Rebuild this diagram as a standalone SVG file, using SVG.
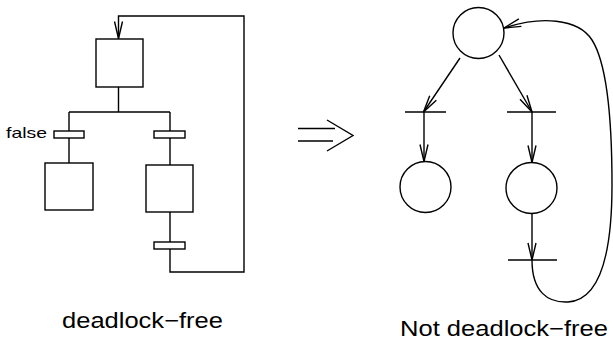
<svg xmlns="http://www.w3.org/2000/svg" width="613" height="343" viewBox="0 0 613 343">
<style>
.s{fill:none;stroke:#000;stroke-width:1.4}
.b{fill:#fff;stroke:#000;stroke-width:1.4}
.t{font-family:"Liberation Sans",Arial,sans-serif;fill:#000}
</style>
<defs>
<marker id="ah" markerUnits="userSpaceOnUse" markerWidth="20" markerHeight="12" refX="17" refY="4" orient="auto" overflow="visible">
<path d="M0,0 L17,4 L0,8" fill="none" stroke="#000" stroke-width="1.4"/>
</marker>
</defs>
<rect width="613" height="343" fill="#fff"/>
<g id="connectors">
<path class="s" d="M118.5,87 V112 M69,112 H170 M69,112 V131 M69,138 V163 M170,112 V131 M170,138 V165 M170,212 V242"/>
<path class="s" d="M170,249 V272 H244 V16 H118.5 V38.5" marker-end="url(#ah)"/>
<path class="s" d="M298,128.5 H335 M298,141 H333 M327,120 L353,135.5 L327,151"/>
<path class="s" d="M460,58 L423.5,112" marker-end="url(#ah)"/>
<path class="s" d="M499,55 L532,112" marker-end="url(#ah)"/>
<path class="s" d="M424,112 V161.5" marker-end="url(#ah)"/>
<path class="s" d="M532,112 V162.5" marker-end="url(#ah)"/>
<path class="s" d="M532,213.5 V260" marker-end="url(#ah)"/>
<path class="s" d="M532,260 C532,292 548,303 568,302 C600,300 612,255 612,185 C612,110 606,62 592,40 C578,18 540,16 504,28" marker-end="url(#ah)"/>
</g>
<g id="step-top"><rect class="b" x="96" y="39" width="47" height="48"/></g>
<g id="trans-left"><rect class="b" x="54" y="131" width="30" height="7"/></g>
<g id="trans-right"><rect class="b" x="154" y="131" width="31" height="7"/></g>
<g id="step-left"><rect class="b" x="45" y="163" width="48" height="47"/></g>
<g id="step-right"><rect class="b" x="146" y="165" width="47" height="47"/></g>
<g id="trans-bottom"><rect class="b" x="154" y="242" width="31" height="7"/></g>
<g id="label-false"><text class="t" x="6" y="138" font-size="15" textLength="41" lengthAdjust="spacingAndGlyphs">false</text></g>
<g id="place-top"><circle class="s" cx="478.5" cy="33" r="25.5"/></g>
<g id="place-left"><circle class="s" cx="425.5" cy="187" r="25.5"/></g>
<g id="place-right"><circle class="s" cx="531.5" cy="188" r="25.5"/></g>
<g id="pt-left"><path class="s" d="M405,112 H446"/></g>
<g id="pt-right"><path class="s" d="M507,112 H556"/></g>
<g id="pt-bottom"><path class="s" d="M508,260 H557"/></g>
<g id="caption-left"><text class="t" x="62" y="328" font-size="22.5" textLength="161" lengthAdjust="spacingAndGlyphs">deadlock−free</text></g>
<g id="caption-right"><text class="t" x="400" y="336" font-size="22.5" textLength="208" lengthAdjust="spacingAndGlyphs">Not deadlock−free</text></g>
</svg>
